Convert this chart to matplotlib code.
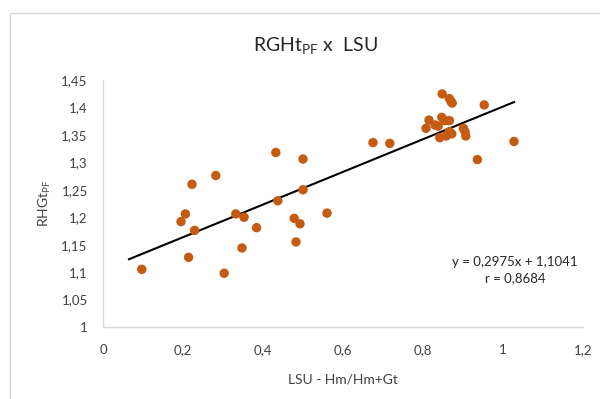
import matplotlib
matplotlib.use("Agg")
import matplotlib.pyplot as plt
from matplotlib.patches import Rectangle

plt.rcParams['font.family'] = ['Lato', 'DejaVu Sans']
plt.rcParams['mathtext.fontset'] = 'custom'
plt.rcParams['mathtext.rm'] = 'Lato'
plt.rcParams['mathtext.it'] = 'Lato:italic'

# Data
lsu = [0.097, 0.214, 0.195, 0.206, 0.229, 0.2225, 0.282, 0.432, 0.500, 0.332,
       0.3525, 0.384, 0.3475, 0.303, 0.437, 0.500, 0.478, 0.4925, 0.4825, 0.560,
       0.675, 0.717, 0.848, 0.866, 0.873, 0.870, 0.953, 0.815, 0.847, 0.855,
       0.866, 0.8075, 0.830, 0.838, 0.866, 0.872, 0.842, 0.858, 0.901, 0.905,
       0.907, 1.0275, 0.936]
rhgt = [1.105, 1.127, 1.192, 1.206, 1.176, 1.260, 1.276, 1.318, 1.306, 1.206,
        1.200, 1.181, 1.144, 1.098, 1.230, 1.250, 1.198, 1.188, 1.155, 1.2075,
        1.336, 1.3345, 1.4246, 1.416, 1.408, 1.411, 1.4046, 1.377, 1.382, 1.376,
        1.376, 1.362, 1.368, 1.366, 1.356, 1.352, 1.345, 1.348, 1.362, 1.356,
        1.348, 1.338, 1.305]

slope = 0.2975
intercept = 1.1041
trend_x = [0.065, 1.0275]

x_ticks = [0, 0.2, 0.4, 0.6, 0.8, 1.0, 1.2]
x_ticklabels = ['0', '0,2', '0,4', '0,6', '0,8', '1', '1,2']
y_ticks = [1.0, 1.05, 1.1, 1.15, 1.2, 1.25, 1.3, 1.35, 1.4, 1.45]
y_ticklabels = ['1', '1,05', '1,1', '1,15', '1,2', '1,25', '1,3', '1,35', '1,4', '1,45']

title = r'RGHt$_{\mathrm{PF}}$ x  LSU'
xlabel = 'LSU - Hm/Hm+Gt'
ylabel = r'RHGt$_{\mathrm{PF}}$'
eq_text = 'y = 0,2975x + 1,1041\nr = 0,8684'

W, H = 600, 399
fig = plt.figure(figsize=(6, 3.99), dpi=100)
fig.patch.set_facecolor('white')

# chart area border
fig.add_artist(Rectangle((10 / W, -0.01), 1.0, 1 - 13 / H + 0.01, transform=fig.transFigure,
                         fill=False, edgecolor='#D9D9D9', linewidth=1.0))

ax = fig.add_axes([103 / W, 1 - 327 / H, 480 / W, 247 / H])
ax.scatter(lsu, rhgt, s=46, color='#C55A11', edgecolors='none', zorder=3)
ty = [slope * v + intercept for v in trend_x]
ax.plot(trend_x, ty, color='black', linewidth=1.5, zorder=2)

ax.set_xlim(0, 1.2)
ax.set_ylim(1.0, 1.45)
ax.set_xticks(x_ticks)
ax.set_xticklabels(x_ticklabels)
ax.set_yticks(y_ticks)
ax.set_yticklabels(y_ticklabels)
ax.tick_params(length=0, labelsize=9.5, colors='#404040')
ax.tick_params(axis='x', pad=12)
ax.tick_params(axis='y', pad=11)
for s in ['top', 'right']:
    ax.spines[s].set_visible(False)
for s in ['left', 'bottom']:
    ax.spines[s].set_color('#D9D9D9')
    ax.spines[s].set_linewidth(1.0)

fig.text(315 / W, 1 - 46 / H, title, ha='center', va='center', fontsize=14, color='#262626')
fig.text(343 / W, 1 - 380 / H, xlabel, ha='center', va='center', fontsize=10, color='#404040')
fig.text(45 / W, 1 - 203 / H, ylabel, ha='center', va='center', rotation=90, fontsize=10, color='#404040')
fig.text(515 / W, 1 - 270 / H, eq_text, ha='center', va='center', fontsize=9.5,
         color='#262626', linespacing=1.35)

fig.savefig('out.png', dpi=100)
